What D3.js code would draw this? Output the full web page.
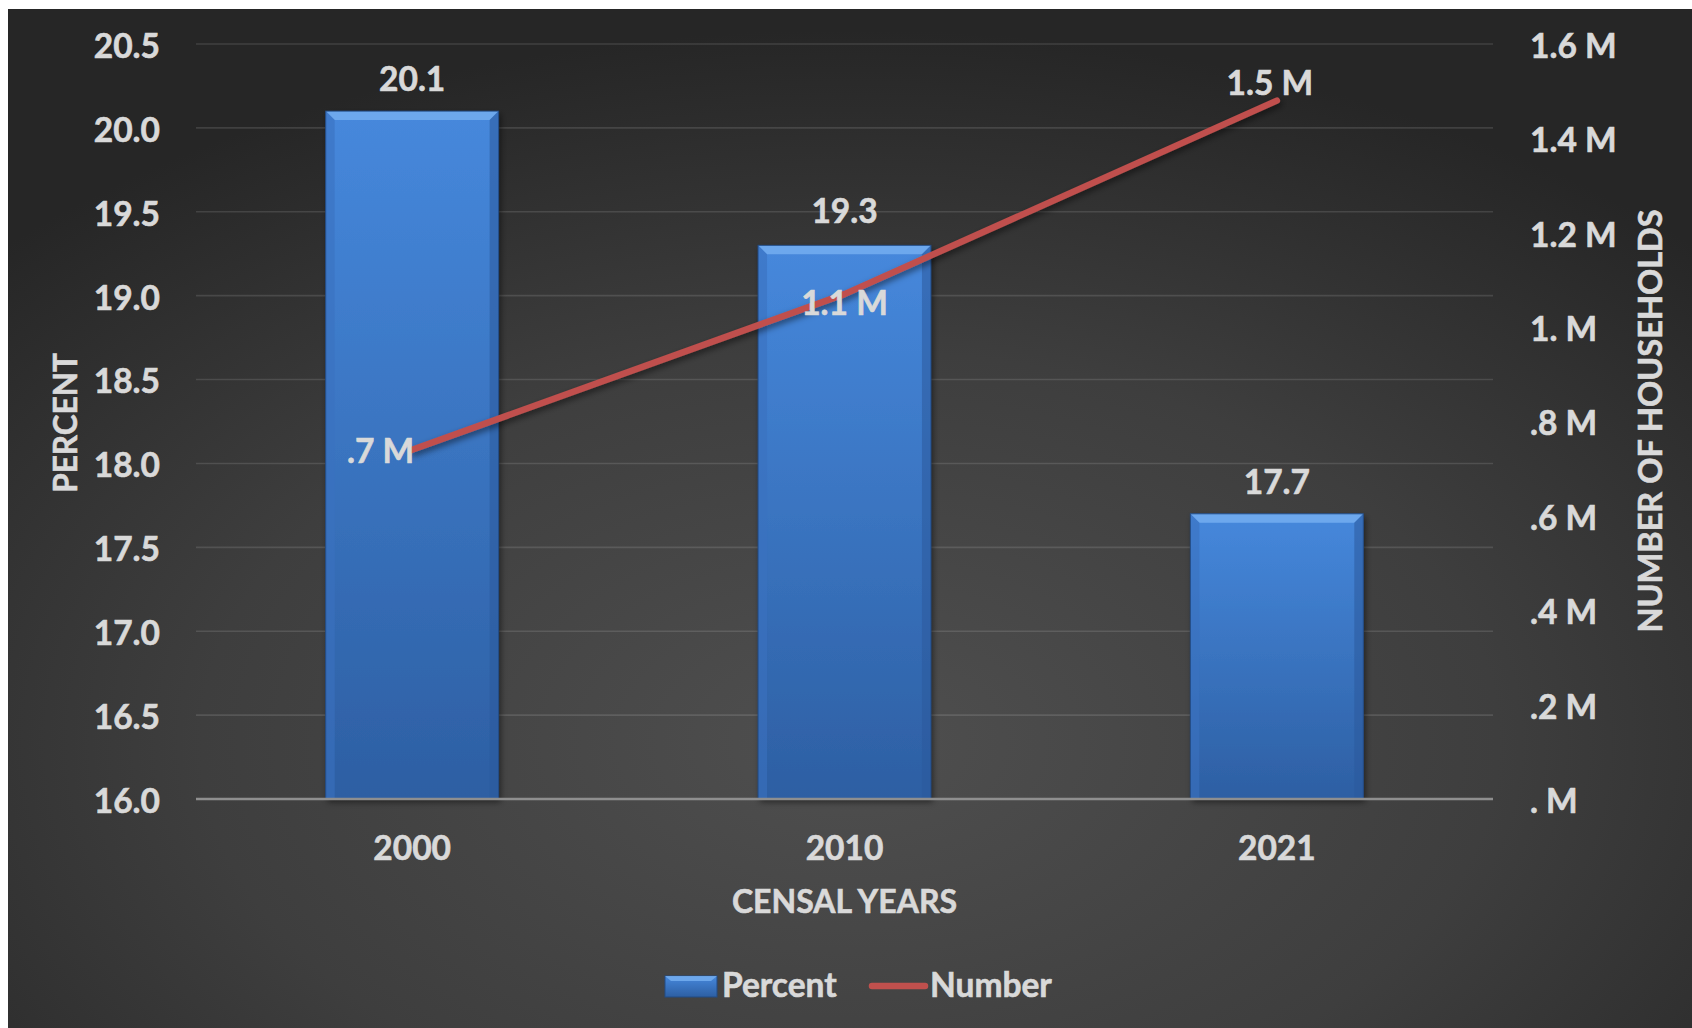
<!DOCTYPE html>
<html>
<head>
<meta charset="utf-8">
<script src="https://cdn.jsdelivr.net/npm/d3@7"></script>
<style>
  html, body { margin: 0; padding: 0; background: #ffffff; }
  svg { display: block; }
  text { font-family: Lato, "Open Sans", sans-serif; font-weight: 700; fill: #d9d9d9; stroke: #d9d9d9; stroke-width: 0.6px; }
</style>
</head>
<body>
<svg id="chart" width="1692" height="1028"></svg>
<script>
const categories = ["2000", "2010", "2021"];
const percentValues = [20.1, 19.3, 17.7];
const householdValues = [0.74, 1.07, 1.48]; // millions
const percentTicks = [16.0, 16.5, 17.0, 17.5, 18.0, 18.5, 19.0, 19.5, 20.0, 20.5];
const householdTicks = [0, 0.2, 0.4, 0.6, 0.8, 1.0, 1.2, 1.4, 1.6];
const seriesNames = ["Percent", "Number"];
const axisTitles = { left: "PERCENT", right: "NUMBER OF HOUSEHOLDS", bottom: "CENSAL YEARS" };

const W = 1692, H = 1028;
const plot = { left: 196, right: 1493, top: 44, bottom: 799 };
const FS = 33.5;

const svg = d3.select("#chart");
const defs = svg.append("defs");

const bg = defs.append("radialGradient").attr("id", "bgGrad")
  .attr("cx", "50%").attr("cy", "72%").attr("r", "70%").attr("fx", "50%").attr("fy", "72%");
bg.append("stop").attr("offset", "0%").attr("stop-color", "#4f4f4f");
bg.append("stop").attr("offset", "55%").attr("stop-color", "#3e3e3e");
bg.append("stop").attr("offset", "100%").attr("stop-color", "#262626");

const barGrad = defs.append("linearGradient").attr("id", "barGrad")
  .attr("x1", 0).attr("y1", 0).attr("x2", 0).attr("y2", 1);
barGrad.append("stop").attr("offset", "0%").attr("stop-color", "#4688dc");
barGrad.append("stop").attr("offset", "100%").attr("stop-color", "#2d5fa3");

const shadow = defs.append("filter").attr("id", "shadow").attr("x", "-20%").attr("y", "-20%").attr("width", "140%").attr("height", "140%");
shadow.append("feDropShadow").attr("dx", 2).attr("dy", 3).attr("stdDeviation", 3).attr("flood-color", "#000").attr("flood-opacity", 0.5);

svg.append("rect").attr("x", 8).attr("y", 9).attr("width", W - 8).attr("height", H - 9).attr("fill", "url(#bgGrad)");

const x = d3.scaleBand().domain(categories).range([plot.left, plot.right]).padding(0);
const yL = d3.scaleLinear().domain([16, 20.5]).range([plot.bottom, plot.top]);
const yR = d3.scaleLinear().domain([0, 1.6]).range([plot.bottom, plot.top]);

const fmtM = v => {
  let s = v.toFixed(1);
  if (s.startsWith("0")) s = s.slice(1);
  if (s.endsWith("0")) s = s.slice(0, -1);
  return s + " M";
};

// gridlines
svg.append("g").selectAll("line").data(percentTicks.slice(1)).join("line")
  .attr("x1", plot.left).attr("x2", plot.right)
  .attr("y1", d => yL(d)).attr("y2", d => yL(d))
  .attr("stroke", "rgba(255,255,255,0.12)").attr("stroke-width", 1.6);

// left axis
const gL = svg.append("g").attr("transform", `translate(${plot.left},0)`)
  .call(d3.axisLeft(yL).tickValues(percentTicks).tickFormat(d3.format(".1f")).tickSize(0).tickPadding(36));
gL.select(".domain").remove();
gL.selectAll("text").style("font-size", FS + "px").attr("fill", "#d9d9d9").attr("dy", "0.4em");

// right axis
const gR = svg.append("g").attr("transform", `translate(${plot.right},0)`)
  .call(d3.axisRight(yR).tickValues(householdTicks).tickFormat(fmtM).tickSize(0).tickPadding(37));
gR.select(".domain").remove();
gR.selectAll("text").style("font-size", FS + "px").attr("fill", "#d9d9d9").attr("dy", "0.4em");

// bars
const bw = x.bandwidth() * 0.4;
const bev = 9;
const barData = categories.map((c, i) => ({ c, v: percentValues[i] }));
const bars = svg.append("g").selectAll("g").data(barData).join("g");
bars.each(function(d) {
  const g = d3.select(this);
  const x0 = x(d.c) + (x.bandwidth() - bw) / 2, x1 = x0 + bw;
  const y0 = yL(d.v), y1 = yL(16);
  g.append("rect").attr("x", x0).attr("y", y0).attr("width", bw).attr("height", y1 - y0)
    .attr("fill", "url(#barGrad)").attr("filter", "url(#shadow)");
  g.append("polygon").attr("points", [[x0, y0], [x1, y0], [x1 - bev, y0 + bev], [x0 + bev, y0 + bev]].join(" "))
    .attr("fill", "#74aef0").attr("opacity", 0.85);
  g.append("polygon").attr("points", [[x0, y0], [x0 + bev, y0 + bev], [x0 + bev, y1], [x0, y1]].join(" "))
    .attr("fill", "#3a72bf").attr("opacity", 0.6);
  g.append("polygon").attr("points", [[x1, y0], [x1 - bev, y0 + bev], [x1 - bev, y1], [x1, y1]].join(" "))
    .attr("fill", "#2b5a9c").attr("opacity", 0.55);
  g.append("rect").attr("x", x0).attr("y", y0).attr("width", bw).attr("height", y1 - y0)
    .attr("fill", "none").attr("stroke", "#234c85").attr("stroke-width", 1);
});

// baseline
svg.append("line").attr("x1", plot.left).attr("x2", plot.right)
  .attr("y1", yL(16)).attr("y2", yL(16)).attr("stroke", "#8f8f8f").attr("stroke-width", 2.5);

// bar labels
svg.append("g").selectAll("text").data(barData).join("text")
  .attr("x", d => x(d.c) + x.bandwidth() / 2).attr("y", (d, i) => yL(d.v) - (i === 1 ? 22 : 20))
  .attr("text-anchor", "middle").style("font-size", FS + "px")
  .text(d => d3.format(".1f")(d.v));

// line
const lineData = categories.map((c, i) => ({ c, v: householdValues[i] }));
const line = d3.line().x(d => x(d.c) + x.bandwidth() / 2).y(d => yR(d.v));
svg.append("path").datum(lineData).attr("d", line)
  .attr("fill", "none").attr("stroke", "#c0504d").attr("stroke-width", 6.5)
  .attr("stroke-linecap", "round").attr("stroke-linejoin", "round").attr("filter", "url(#shadow)");

// line labels
const lblPos = [
  { dx: 2, dy: 13, anchor: "end" },
  { dx: 0, dy: 21, anchor: "middle" },
  { dx: -7, dy: -6, anchor: "middle" }
];
svg.append("g").selectAll("text").data(lineData).join("text")
  .attr("x", (d, i) => x(d.c) + x.bandwidth() / 2 + lblPos[i].dx)
  .attr("y", (d, i) => yR(d.v) + lblPos[i].dy)
  .attr("text-anchor", (d, i) => lblPos[i].anchor)
  .style("font-size", FS + "px")
  .text(d => fmtM(d.v));

// category labels
svg.append("g").selectAll("text").data(categories).join("text")
  .attr("x", d => x(d) + x.bandwidth() / 2).attr("y", 860)
  .attr("text-anchor", "middle").style("font-size", FS + "px").text(d => d);

// axis titles
svg.append("text").attr("transform", `translate(77,423) rotate(-90)`)
  .attr("text-anchor", "middle").style("font-size", "31.5px").text(axisTitles.left);
svg.append("text").attr("transform", `translate(1662,421) rotate(-90)`)
  .attr("text-anchor", "middle").style("font-size", "32.5px").text(axisTitles.right);
svg.append("text").attr("x", (plot.left + plot.right) / 2).attr("y", 913)
  .attr("text-anchor", "middle").style("font-size", "32px").text(axisTitles.bottom);

// legend
const lg = svg.append("g");
const sw = lg.append("g");
sw.append("rect").attr("x", 665).attr("y", 976).attr("width", 52).attr("height", 21).attr("fill", "url(#barGrad)").attr("stroke", "#234c85");
sw.append("polygon").attr("points", "665,976 717,976 711,981 671,981").attr("fill", "#74aef0").attr("opacity", 0.85);
lg.append("text").attr("x", 722).attr("y", 997).style("font-size", FS + "px").text(seriesNames[0]);
lg.append("line").attr("x1", 872).attr("x2", 925).attr("y1", 986).attr("y2", 986)
  .attr("stroke", "#c0504d").attr("stroke-width", 6.5).attr("stroke-linecap", "round");
lg.append("text").attr("x", 930).attr("y", 997).style("font-size", FS + "px").text(seriesNames[1]);
</script>
</body>
</html>
